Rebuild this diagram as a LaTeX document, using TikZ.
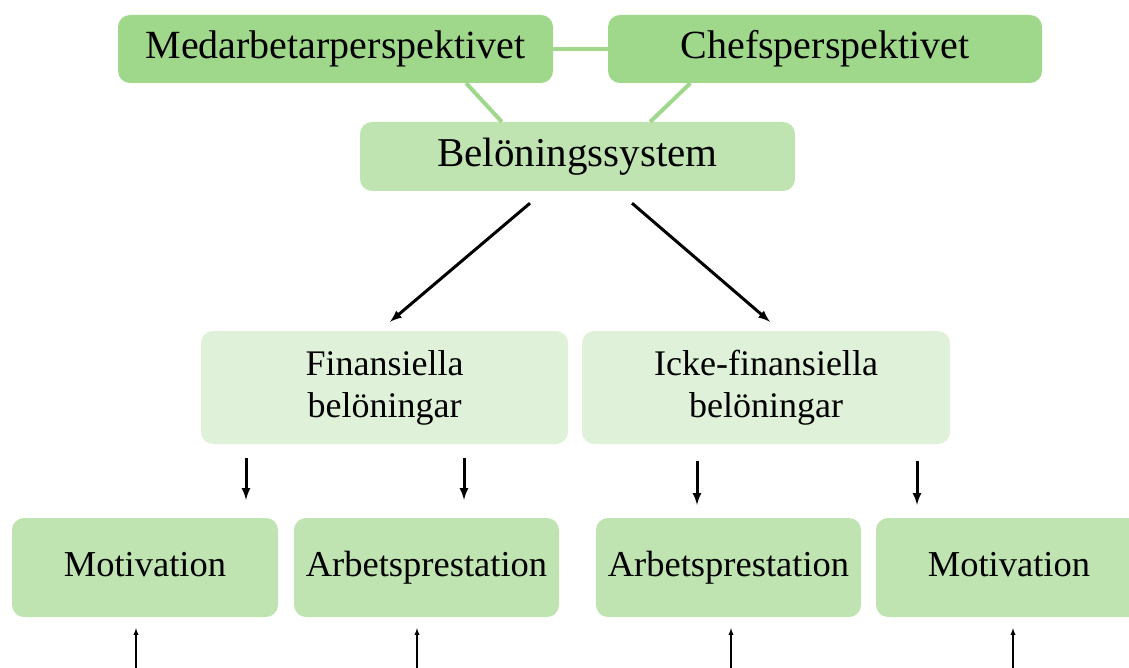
\documentclass[tikz,border=0pt]{standalone}
\usepackage{fontspec}
\setmainfont{Liberation Serif}
\usepackage{tikz}
\usetikzlibrary{calc,arrows}

\definecolor{darkbox}{HTML}{9FD88B}
\definecolor{midbox}{HTML}{BFE4B1}
\definecolor{palebox}{HTML}{DFF1D8}

\begin{document}
\begin{tikzpicture}[>=latex, x=1pt, y=-1pt,
	box/.style={rounded corners=12pt, inner sep=0pt, align=center},
	topbox/.style={box, fill=darkbox, minimum height=68pt, font=\fontsize{40}{44}\selectfont},
	kindbox/.style={box, fill=palebox, minimum width=367pt, minimum height=113pt, font=\fontsize{36}{42}\selectfont},
	effectbox/.style={box, fill=midbox, minimum width=266pt, minimum height=99pt, text height=26pt, text depth=8pt, font=\fontsize{36.5}{42}\selectfont},
	link/.style={darkbox, line width=4pt},
	bigarrow/.style={->, line width=3pt},
	downarrow/.style={->, line width=3pt, >=latex},
	uparrow/.style={->, line width=1.3pt}]
	\useasboundingbox (0,0) rectangle (1129,668);
	%Perspektiv
	\node [topbox, minimum width=435pt] (Medarb) at (335.5,49) {Medarbetarperspektivet};
	\node [topbox, minimum width=434pt] (Chef) at (825,49) {Chefsperspektivet};
	\node [box, fill=midbox, minimum width=435pt, minimum height=69pt, font=\fontsize{41}{44}\selectfont] (Belon) at (577.5,156.5) {Belöningssystem};
	\draw [link] (Medarb.east) -- (Chef.west);
	\draw [link] ($(Medarb.south west)!0.8!(Medarb.south east)$) -- ($(Belon.north west)!0.326!(Belon.north east)$);
	\draw [link] ($(Chef.south west)!0.19!(Chef.south east)$) -- ($(Belon.north west)!0.667!(Belon.north east)$);
	%Beloningar
	\node [kindbox] (Fin) at (384.5,387.5) {Finansiella\\belöningar};
	\node [kindbox, minimum width=368pt] (Icke) at (766,387.5) {Icke-finansiella\\belöningar};
	\draw [bigarrow] ([xshift=-47.5pt,yshift=-12pt]Belon.south) -- ([xshift=5.5pt,yshift=9pt]Fin.north);
	\draw [bigarrow] ([xshift=54.5pt,yshift=-12pt]Belon.south) -- ([xshift=4pt,yshift=9pt]Icke.north);
	%Effekter
	\node [effectbox] (Mot1) at (145,567.5) {Motivation};
	\node [effectbox, minimum width=265pt] (Arb1) at (426.5,567.5) {Arbetsprestation};
	\node [effectbox, minimum width=265pt] (Arb2) at (728.5,567.5) {Arbetsprestation};
	\node [effectbox] (Mot2) at (1009,567.5) {Motivation};
	\draw [downarrow] ([xshift=-138.5pt,yshift=-14pt]Fin.south) -- ([xshift=101pt,yshift=18pt]Mot1.north);
	\draw [downarrow] ([xshift=79.5pt,yshift=-14pt]Fin.south) -- ([xshift=37.5pt,yshift=18pt]Arb1.north);
	\draw [downarrow] ([xshift=-69pt,yshift=-17pt]Icke.south) -- ([xshift=-31.5pt,yshift=13pt]Arb2.north);
	\draw [downarrow] ([xshift=151pt,yshift=-17pt]Icke.south) -- ([xshift=-92pt,yshift=13pt]Mot2.north);
	%Inflode nedifran
	\coordinate (in1) at (136,700);
	\coordinate (in2) at (417,700);
	\coordinate (in3) at (731,700);
	\coordinate (in4) at (1013,700);
	\draw [uparrow] (in1) -- ([xshift=-9pt,yshift=-11pt]Mot1.south);
	\draw [uparrow] (in2) -- ([xshift=-9.5pt,yshift=-11pt]Arb1.south);
	\draw [uparrow] (in3) -- ([xshift=2.5pt,yshift=-11pt]Arb2.south);
	\draw [uparrow] (in4) -- ([xshift=4pt,yshift=-11pt]Mot2.south);
\end{tikzpicture}
\end{document}
